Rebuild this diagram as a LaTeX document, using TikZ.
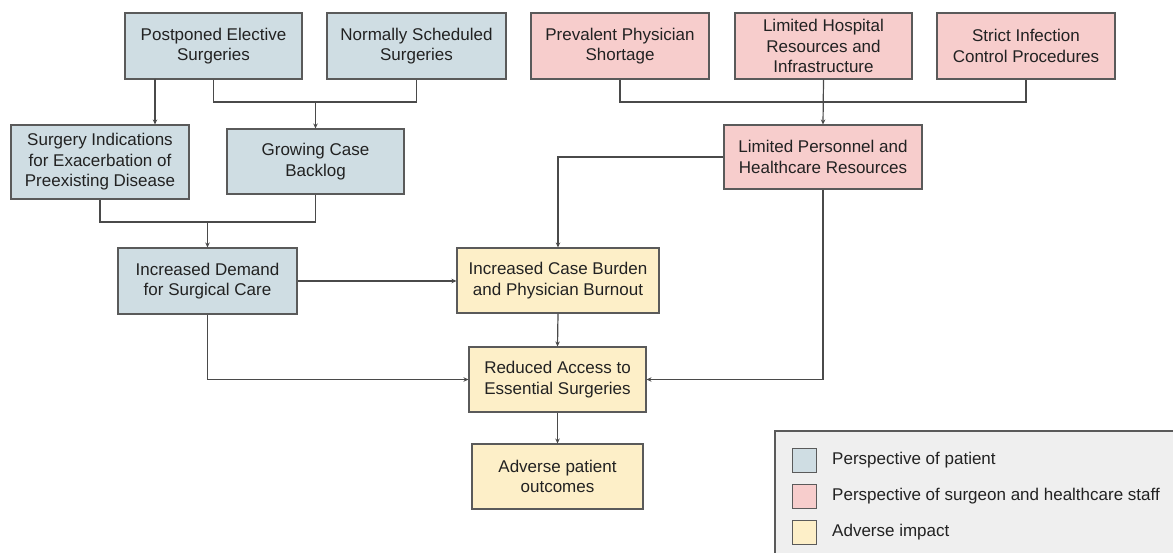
\documentclass[tikz,border=0pt]{standalone}
\usepackage{fontspec}
\setmainfont{Liberation Sans}
\usetikzlibrary{arrows.meta}
\definecolor{patient}{HTML}{CFDDE3}
\definecolor{staff}{HTML}{F7CDCC}
\definecolor{impact}{HTML}{FDEFC8}
\definecolor{legbg}{HTML}{EFEFEF}
\definecolor{edge}{HTML}{5A5A5A}
\definecolor{wire}{HTML}{4A4A4A}
\definecolor{txt}{HTML}{222222}
\tikzset{
  box/.style={draw=edge, line width=1.1pt, inner sep=0pt, align=center, text=txt,
    font=\fontsize{17}{20.5}\selectfont},
  pbox/.style={box, fill=patient},
  sbox/.style={box, fill=staff},
  ibox/.style={box, fill=impact},
  wirel/.style={draw=wire, line width=1.2pt},
  arr/.style={wirel, -{Stealth[length=5pt,width=4.5pt]}},
  legtext/.style={anchor=west, inner sep=0pt, text=txt, font=\fontsize{17}{20}\selectfont},
}
\begin{document}
\begin{tikzpicture}[x=1pt, y=-1pt]
\clip (0,0) rectangle (1173,553);
\fill[white] (0,0) rectangle (1173,553);
% top row
\node[pbox, minimum width=177pt, minimum height=66pt] (post) at (213.5,46) {Postponed Elective\\Surgeries};
\node[pbox, minimum width=179pt, minimum height=66pt] (norm) at (416.5,46) {Normally Scheduled\\Surgeries};
\node[sbox, minimum width=178pt, minimum height=66pt] (prev) at (620,46) {Prevalent Physician\\Shortage};
\node[sbox, minimum width=177pt, minimum height=66pt] (hosp) at (823.5,46) {Limited Hospital\\Resources and\\Infrastructure};
\node[sbox, minimum width=178pt, minimum height=66pt] (strict) at (1026,46) {Strict Infection\\Control Procedures};
% second row
\node[pbox, minimum width=178pt, minimum height=74pt] (ind) at (100,162) {Surgery Indications\\for Exacerbation of\\Preexisting Disease};
\node[pbox, minimum width=177pt, minimum height=65pt] (grow) at (315.5,161.5) {Growing Case\\Backlog};
\node[sbox, minimum width=198pt, minimum height=64pt] (pers) at (823,157) {Limited Personnel and\\Healthcare Resources};
% third row
\node[pbox, minimum width=179pt, minimum height=66pt] (dem) at (207.5,281) {Increased Demand\\for Surgical Care};
\node[ibox, minimum width=202pt, minimum height=65pt] (burd) at (558,280.5) {Increased Case Burden\\and Physician Burnout};
\node[ibox, minimum width=177pt, minimum height=65pt] (red) at (557.5,379.5) {Reduced Access to\\Essential Surgeries};
\node[ibox, minimum width=171pt, minimum height=65pt] (adv) at (557.5,476.5) {Adverse patient\\outcomes};
% junctions
\coordinate (j1) at (315.5,102);
\coordinate (j2) at (823.5,102);
\coordinate (j3) at (207.5,222);
\coordinate (p1) at (155,79);
% connectors
\draw[arr] (p1) -- (p1 |- ind.north);
\draw[wirel] (post.south) |- (j1) -| (norm.south);
\draw[arr] (j1) -- (grow.north);
\draw[wirel] (prev.south) |- (j2) -| (strict.south);
\draw[arr] (hosp.south) -- (pers.north);
\draw[arr] (pers.west) -| (burd.north);
\draw[arr] (pers.south) |- (red.east);
\draw[wirel] (ind.south) |- (j3) -| (grow.south);
\draw[arr] (j3) -- (dem.north);
\draw[arr] (dem.east) -- (dem.east -| burd.west);
\draw[arr] (dem.south) |- (red.west);
\draw[arr] (burd.south) -- (red.north);
\draw[arr] (red.south) -- (adv.north);
% legend
\draw[draw=edge, line width=1.1pt, fill=legbg] (775,431) rectangle (1185,565);
\draw[draw=edge, line width=1pt, fill=patient] (792,448) rectangle (816,472);
\draw[draw=edge, line width=1pt, fill=staff] (792,484) rectangle (816,508);
\draw[draw=edge, line width=1pt, fill=impact] (792,520) rectangle (816,544);
\node[legtext] (l1) at (832,460) {Perspective of patient};
\node[legtext] (l2) at (832,496) {Perspective of surgeon and healthcare staff};
\node[legtext] (l3) at (832,532) {Adverse impact};
\end{tikzpicture}
\end{document}
